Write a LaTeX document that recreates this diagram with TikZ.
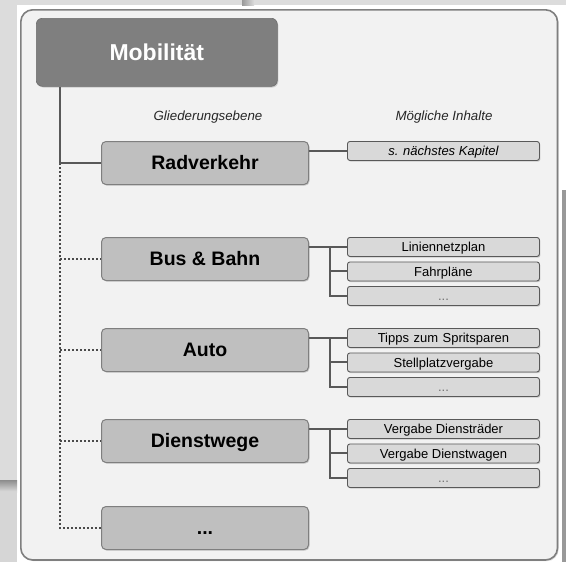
\documentclass[tikz,border=0pt]{standalone}
\usepackage{fontspec}
\setmainfont{Liberation Sans}
\usetikzlibrary{shadows}
\definecolor{bgout}{HTML}{DCDCDC}
\definecolor{framefill}{HTML}{F2F2F2}
\definecolor{frameline}{HTML}{7F7F7F}
\definecolor{topfill}{HTML}{7F7F7F}
\definecolor{mainfill}{HTML}{BFBFBF}
\definecolor{subfill}{HTML}{D9D9D9}
\definecolor{linecol}{HTML}{595959}
\definecolor{dotline}{HTML}{4A4A4A}
\definecolor{dotgray}{HTML}{707070}
\begin{document}
\begin{tikzpicture}[x=1pt,y=-1pt,
  softshadow/.style={drop shadow={shadow xshift=1pt, shadow yshift=-1.2pt, opacity=0.35}},
  topbox/.style={draw=topfill!85!black, line width=0.6pt, fill=topfill, rounded corners=6pt,
    minimum width=241pt, minimum height=68pt, inner sep=0pt, anchor=north west,
    text=white, font=\bfseries\fontsize{23}{26}\selectfont, softshadow},
  mainbox/.style={draw=frameline, line width=1pt, fill=mainfill, rounded corners=4.5pt,
    minimum width=207pt, minimum height=43pt, anchor=north west, inner sep=0pt,
    text height=13.5pt, text depth=0pt, font=\bfseries\fontsize{19.5}{22}\selectfont, softshadow},
  subbox/.style={draw=linecol, line width=0.9pt, fill=subfill, rounded corners=2.5pt,
    minimum width=192pt, minimum height=19pt, anchor=north west, inner sep=0pt,
    text height=9.3pt, text depth=0pt, font=\fontsize{13}{15}\selectfont, softshadow},
  conn/.style={draw=linecol, line width=2pt},
  dotconn/.style={draw=dotline, line width=2.3pt, dash pattern=on 2.2pt off 1.8pt},
  header/.style={font=\itshape\fontsize{13.3}{15}\selectfont, text=black!85, inner sep=0pt},
  subdots/.style={text=dotgray, font=\fontsize{13}{15}\selectfont}
]
\useasboundingbox (0,0) rectangle (566,562);
% backdrop
\fill[bgout] (0,0) rectangle (566,562);
\fill[white] (17,5) rectangle (566,562);
\shade[top color=black!45, bottom color=bgout] (0,480) rectangle (17,492);
\fill[black!16] (0,492) rectangle (17,562);
\shade[left color=black!40, right color=bgout] (242,0) rectangle (254,5);
\fill[black!40] (561.5,190) rectangle (566,562);
% frame
\draw[frameline, line width=1.6pt, fill=framefill, rounded corners=12pt,
  drop shadow={shadow xshift=1.2pt, shadow yshift=-1.2pt, opacity=0.3}]
  (20.8,9.8) rectangle (557.5,560);

% headers
\node[header] (h1) at (208,117) {Gliederungsebene};
\node[header] (h2) at (444,117) {Mögliche Inhalte};

% top
\node[topbox] (mob) at (36,18) {Mobilität};

% main boxes
\node[mainbox] (rad) at (101,141) {Radverkehr};
\node[mainbox] (bus) at (101,237) {Bus \& Bahn};
\node[mainbox] (auto) at (101,328) {Auto};
\node[mainbox] (dw) at (101,419) {Dienstwege};
\node[mainbox] (etc) at (101,506) {...};

% sub boxes
\node[subbox, font=\itshape\fontsize{13}{15}\selectfont] (rad1) at (347,141) {s. nächstes Kapitel};

\node[subbox] (bus1) at (347,237) {Liniennetzplan};
\node[subbox] (bus2) at (347,261.5) {Fahrpläne};
\node[subbox, subdots] (bus3) at (347,286) {...};

\node[subbox] (auto1) at (347,328) {Tipps\hspace{4.5pt}zum\hspace{4.5pt}Spritsparen};
\node[subbox] (auto2) at (347,352.5) {Stellplatzvergabe};
\node[subbox, subdots] (auto3) at (347,377) {...};

\node[subbox] (dw1) at (347,419) {Vergabe Diensträder};
\node[subbox] (dw2) at (347,443.5) {Vergabe Dienstwagen};
\node[subbox, subdots] (dw3) at (347,468) {...};

% left trunk
\coordinate (tr) at ([xshift=24pt]mob.south west);
\draw[dotconn] (tr |- rad.west) |- (etc.west);
\draw[dotconn] (tr |- bus.west) -- (bus.west);
\draw[dotconn] (tr |- auto.west) -- (auto.west);
\draw[dotconn] (tr |- dw.west) -- (dw.west);
\draw[conn] (tr) |- (rad.west);

% right connectors
\draw[conn] (rad.east |- rad1.west) -- (rad1.west);

\draw[conn] (bus.east |- bus1.west) -- (bus1.west);
\draw[conn] ([xshift=-17pt]bus1.west) |- (bus2.west);
\draw[conn] ([xshift=-17pt]bus1.west) |- (bus3.west);

\draw[conn] (auto.east |- auto1.west) -- (auto1.west);
\draw[conn] ([xshift=-17pt]auto1.west) |- (auto2.west);
\draw[conn] ([xshift=-17pt]auto1.west) |- (auto3.west);

\draw[conn] (dw.east |- dw1.west) -- (dw1.west);
\draw[conn] ([xshift=-17pt]dw1.west) |- (dw2.west);
\draw[conn] ([xshift=-17pt]dw1.west) |- (dw3.west);
\end{tikzpicture}
\end{document}
